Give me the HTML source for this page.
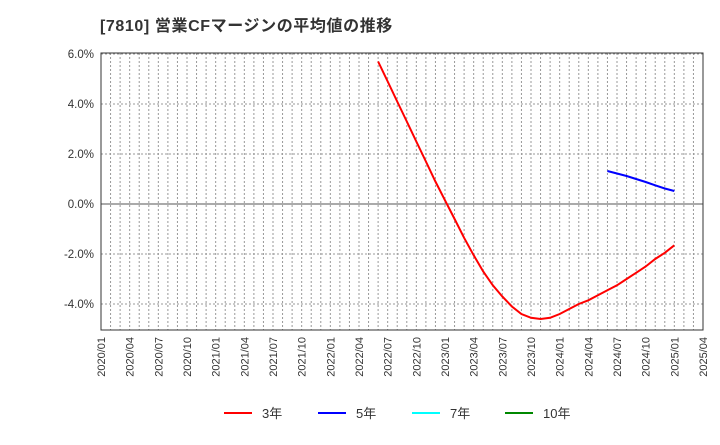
<!DOCTYPE html>
<html><head><meta charset="utf-8"><style>
body{margin:0;background:#fff;font-family:"Liberation Sans","Noto Sans CJK JP",sans-serif;}
</style></head><body>
<svg id="c" width="720" height="440" xmlns="http://www.w3.org/2000/svg">
<text x="100" y="31" font-size="16" letter-spacing="0.6" font-weight="bold" fill="#333">[7810]  営業CFマージンの平均値の推移</text>
</svg>
<script>
const xLabels=["2020/01","2020/04","2020/07","2020/10","2021/01","2021/04","2021/07","2021/10","2022/01","2022/04","2022/07","2022/10","2023/01","2023/04","2023/07","2023/10","2024/01","2024/04","2024/07","2024/10","2025/01","2025/04"];
const yTicks=[6,4,2,0,-2,-4];
const red3Start=29;
const red3=[5.7,4.9,4.1,3.3,2.5,1.7,0.9,0.15,-0.6,-1.35,-2.05,-2.7,-3.25,-3.7,-4.1,-4.4,-4.55,-4.6,-4.55,-4.4,-4.2,-4.0,-3.85,-3.65,-3.45,-3.25,-3.0,-2.75,-2.5,-2.2,-1.95,-1.65];
const blue5Start=53;
const blue5=[1.32,1.22,1.12,1.0,0.88,0.75,0.62,0.52];
const L=101,R=703,T=53,B=330,NM=63;
const xs=m=>L+(R-L)*m/NM;
const ys=v=>204-25*v;
const svg=document.getElementById('c');
const NS="http://www.w3.org/2000/svg";
function mk(t,a){const e=document.createElementNS(NS,t);for(const k in a)e.setAttribute(k,a[k]);svg.appendChild(e);return e;}
for(let m=1;m<NM;m++){const g=mk('line',{x1:xs(m),x2:xs(m),y1:T,y2:B,stroke:'#999','stroke-dasharray':'2,2','stroke-width':1});

}
yTicks.forEach(v=>{const y=ys(v);
const g=mk('line',{x1:L,x2:R,y1:y,y2:y,stroke:v===0?'#555':'#999','stroke-dasharray':v===0?'':'2,2','stroke-width':1});


const t=mk('text',{x:L-7,y:y+4,'font-size':11.5,'text-anchor':'end',fill:'#333'});t.textContent=v.toFixed(1)+'%';

});
const fr=mk('rect',{x:L,y:T,width:R-L,height:B-T,fill:'none',stroke:'#333','stroke-width':1});


xLabels.forEach((s,i)=>{const x=xs(i*3);
const t=mk('text',{transform:`translate(${x+4},${B+7}) rotate(-90)`,'font-size':11,'text-anchor':'end',fill:'#333'});t.textContent=s;

});
function series(arr,start,col,name){const p=arr.map((v,i)=>xs(start+i).toFixed(1)+','+ys(v).toFixed(1)).join(' ');
const e=mk('polyline',{points:p,fill:'none',stroke:col,'stroke-width':2});

}
series(red3,red3Start,'#f00','series-3y');
series(blue5,blue5Start,'#00f','series-5y');
[["3年","#f00",224],["5年","#00f",318],["7年","#0ff",412],["10年","#080",505]].forEach(([n,c,x])=>{
const l=mk('line',{x1:x,x2:x+28,y1:413,y2:413,stroke:c,'stroke-width':2});


const t=mk('text',{x:x+38,y:418,'font-size':13,fill:'#333'});t.textContent=n;

});
</script>
</body></html>
